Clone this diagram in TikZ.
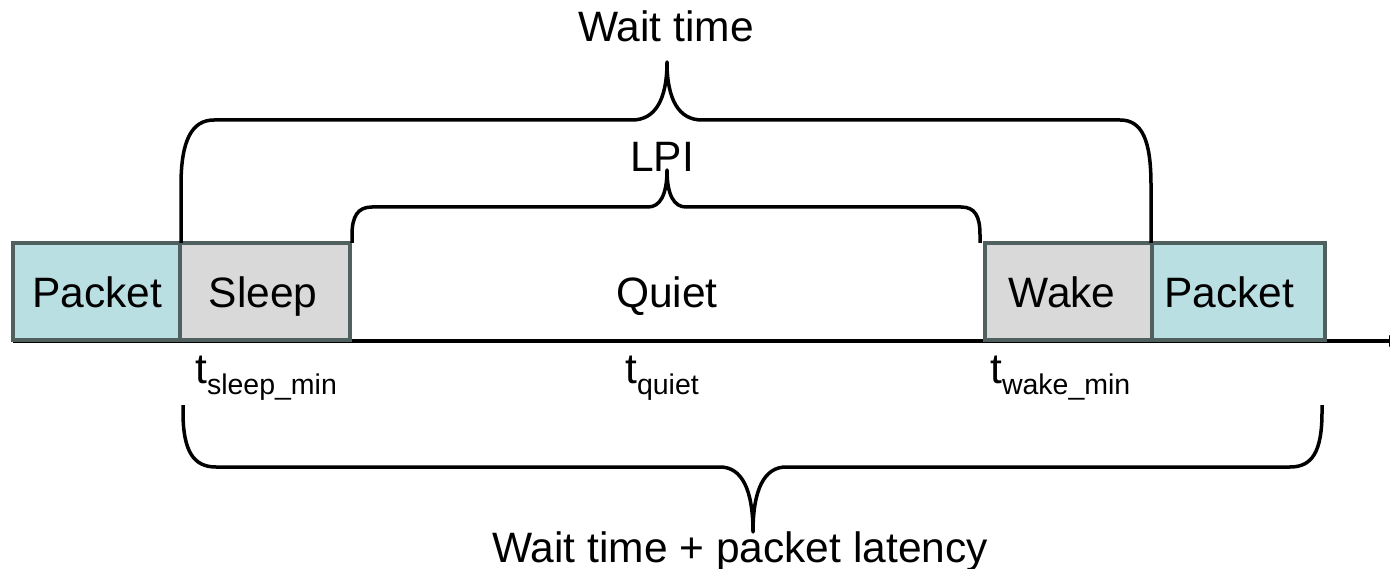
\documentclass[tikz,border=0pt]{standalone}
\usepackage{fontspec}
\setmainfont{Liberation Sans}
\usetikzlibrary{arrows.meta}
\definecolor{pkt}{HTML}{B9DFE3}
\definecolor{slp}{HTML}{D9D9D9}
\definecolor{bord}{HTML}{4F605F}
\begin{document}
\begin{tikzpicture}[x=1pt,y=-1pt,
  seg/.style={draw=bord,line width=4pt},
  lbl/.style={inner sep=0pt,anchor=base,font=\fontsize{42.5}{50}\selectfont},
  tl/.style={inner sep=0pt,anchor=base west,font=\fontsize{42.5}{50}\selectfont},
  brace/.style={draw=black,line width=3.5pt,line join=round}]
\useasboundingbox (0,0) rectangle (1390,569);
% time axis
\coordinate (a0) at (13,341);
\coordinate (a1) at (1399,341);
\draw[line width=3.2pt,-{Latex[length=10pt,width=13pt]}] (a0) -- (a1);
% boxes
\path[seg,fill=pkt] (13,243) rectangle (180,340);
\path[seg,fill=slp] (180,243) rectangle (350,340);
\path[seg,fill=slp] (985,243) rectangle (1152,340);
\path[seg,fill=pkt] (1152,243) rectangle (1325,340);
\node[lbl] (p1) at (97,308) {Packet};
\node[lbl] (sl) at (263,308) {Sleep};
\node[lbl] (qu) at (667,308) {Quiet};
\node[lbl] (wk) at (1062,308) {Wake};
\node[lbl] (p2) at (1229,308) {Packet};
% time labels
\node[tl] (ts) at (195,383) {t\raisebox{-12pt}{\fontsize{28.5}{33}\selectfont sleep\_min}};
\node[tl] (tq) at (625,383) {t\raisebox{-12pt}{\fontsize{28.5}{33}\selectfont quiet}};
\node[tl] (tw) at (990,383) {t\raisebox{-12pt}{\fontsize{28.5}{33}\selectfont wake\_min}};
% Wait time brace
\draw[brace] (181,243) -- (181,185) .. controls (181,140) and (192,120) .. (214,120)
  -- (632,120) .. controls (655,120) and (667,100) .. (667,62)
  .. controls (667,100) and (679,120) .. (702,120)
  -- (1120,120) .. controls (1142,120) and (1151,140) .. (1151,185) -- (1151,243);
\node[lbl] (wt) at (666,42) {Wait time};
% LPI brace
\draw[brace] (352,243) -- (352,235) .. controls (352,216) and (358,207) .. (372,207)
  -- (648,207) .. controls (660,207) and (667,195) .. (667,170)
  .. controls (667,195) and (674,207) .. (686,207)
  -- (961,207) .. controls (975,207) and (980,216) .. (980,235) -- (980,243);
\node[lbl] (lpi) at (662,172) {LPI};
% bottom brace
\draw[brace] (183,405) -- (183,412) .. controls (183,452) and (194,467) .. (216,467)
  -- (720,467) .. controls (742,467) and (753,490) .. (753,532)
  .. controls (753,490) and (764,467) .. (786,467)
  -- (1290,467) .. controls (1312,467) and (1322,452) .. (1322,412) -- (1322,405);
\node[lbl] (wl) at (740,562) {Wait time + packet latency};
\end{tikzpicture}
\end{document}
